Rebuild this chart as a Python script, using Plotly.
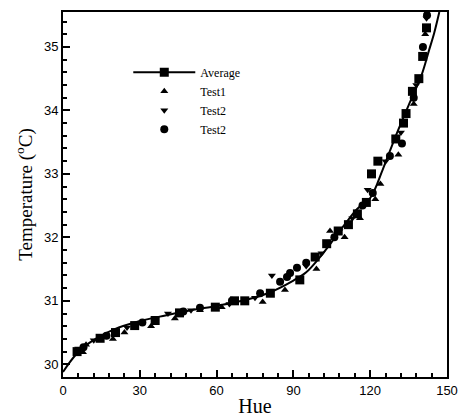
import plotly.graph_objects as go

# Fitted curve through the average data
fit_hue = [0, 5, 10, 20, 30, 40, 50, 60, 70, 80, 90, 95, 100, 105, 110, 115, 120, 125, 130, 135, 140, 143, 145, 147]
fit_temp = [29.88, 30.15, 30.33, 30.55, 30.68, 30.77, 30.85, 30.92, 31.0, 31.12, 31.32, 31.45, 31.67, 31.93, 32.2, 32.45, 32.62, 33.08, 33.6, 34.08, 34.55, 34.95, 35.22, 35.55]

# Average (squares)
avg_hue = [5.5, 14.5, 20.5, 28, 36, 45.5, 59.5, 67, 71, 81, 92.5, 98.5, 103, 107.5, 111.5, 115, 118.5, 120.5, 123, 130, 133, 134, 136.5, 139, 140.5, 142]
avg_temp = [30.2, 30.41, 30.5, 30.61, 30.69, 30.81, 30.9, 31.0, 31.0, 31.12, 31.33, 31.69, 31.9, 32.1, 32.2, 32.37, 32.55, 33.0, 33.2, 33.55, 33.8, 33.95, 34.3, 34.5, 34.85, 35.3]

# Test1 (triangle up)
t1_hue = [7.8, 9, 19.5, 24, 34.4, 43.7, 53.5, 62, 78, 86.7, 99, 104.3, 110, 116, 122, 124, 131, 137, 141.5]
t1_temp = [30.19, 30.31, 30.4, 30.5, 30.6, 30.72, 30.85, 30.9, 30.98, 31.17, 31.5, 32.1, 32.0, 32.3, 32.6, 32.84, 33.3, 34.1, 35.2]

# Test2 (triangle down)
t2_hue = [6, 12, 25, 41, 50, 65, 75, 81.6, 95, 101, 108, 113, 119, 126, 132, 138, 142]
t2_temp = [30.25, 30.38, 30.58, 30.8, 30.85, 30.95, 31.05, 31.4, 31.55, 31.75, 32.1, 32.3, 32.75, 33.2, 33.65, 34.4, 35.45]

# Test2 (circles)
t3_hue = [8, 17, 31, 47, 53.5, 66, 77, 84.8, 87.5, 88.7, 91.4, 95, 106, 117, 121, 127.7, 132.4, 137, 140.6, 142.2]
t3_temp = [30.27, 30.45, 30.66, 30.83, 30.89, 31.0, 31.12, 31.3, 31.375, 31.44, 31.52, 31.6, 32.0, 32.5, 32.7, 33.28, 33.48, 34.2, 35.0, 35.5]

serif = "Liberation Serif, Times New Roman, serif"
sans = "Liberation Sans, Arial, sans-serif"

fig = go.Figure()
# legend entry for Average (line + square)
fig.add_trace(go.Scatter(x=[None], y=[None], mode="lines+markers", name="Average",
                         line=dict(color="black", width=2),
                         marker=dict(symbol="square", size=9, color="black")))
fig.add_trace(go.Scatter(x=fit_hue, y=fit_temp, mode="lines", line=dict(color="black", width=2, shape="spline"),
                         showlegend=False, hoverinfo="skip"))
fig.add_trace(go.Scatter(x=avg_hue, y=avg_temp, mode="markers", name="Average", showlegend=False,
                         marker=dict(symbol="square", size=9, color="black")))
fig.add_trace(go.Scatter(x=t1_hue, y=t1_temp, mode="markers", name="Test1",
                         marker=dict(symbol="triangle-up", size=7, color="black")))
fig.add_trace(go.Scatter(x=t2_hue, y=t2_temp, mode="markers", name="Test2",
                         marker=dict(symbol="triangle-down", size=7, color="black")))
fig.add_trace(go.Scatter(x=t3_hue, y=t3_temp, mode="markers", name="Test2",
                         marker=dict(symbol="circle", size=8, color="black")))

fig.update_layout(
    width=462, height=419,
    margin=dict(l=63, r=15, t=12, b=42),
    paper_bgcolor="white", plot_bgcolor="white",
    showlegend=True,
    legend=dict(x=0.17, y=0.875, xanchor="left", yanchor="top", bgcolor="rgba(0,0,0,0)",
                font=dict(family=serif, size=12, color="black"), itemwidth=62, tracegroupgap=0),
)
fig.update_xaxes(range=[0, 150], tickvals=[0, 30, 60, 90, 120, 150], ticks="inside", ticklen=7, tickwidth=1.5,
                 tickcolor="black", showline=True, linecolor="black", linewidth=2, mirror=True,
                 showgrid=False, zeroline=False, automargin=False,
                 minor=dict(dtick=6, tick0=0, ticks="inside", ticklen=4, tickcolor="black", showgrid=False),
                 tickfont=dict(family=sans, size=13, color="black"),
                 title=dict(text="Hue", font=dict(family=serif, size=20, color="black"), standoff=2))
fig.update_yaxes(range=[29.8, 35.55], tickvals=[30, 31, 32, 33, 34, 35], ticks="inside", ticklen=7, tickwidth=1.5,
                 tickcolor="black", showline=True, linecolor="black", linewidth=2, mirror=True,
                 showgrid=False, zeroline=False, automargin=False,
                 minor=dict(dtick=0.2, tick0=30, ticks="inside", ticklen=4, tickcolor="black", showgrid=False),
                 tickfont=dict(family=sans, size=13, color="black"),
                 title=dict(text="Temperature (<sup>o</sup>C)", font=dict(family=serif, size=19, color="black"), standoff=6))

fig.write_html("out.html", config={"displayModeBar": False},
               post_script="document.body.style.margin='0';document.body.style.overflow='hidden';")
